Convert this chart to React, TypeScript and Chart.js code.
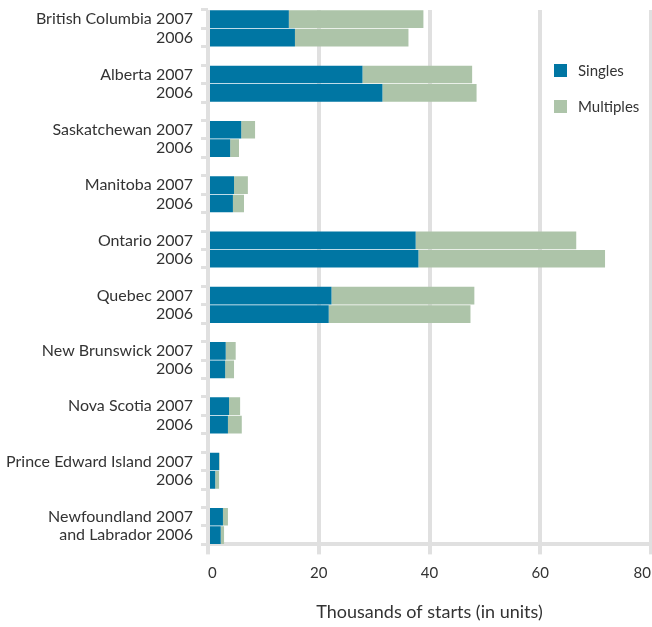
import React, { useEffect, useRef } from "react";
import { Chart, registerables } from "chart.js";
Chart.register(...registerables);

const provinces: string[][] = [
  ["British Columbia 2007", "2006"],
  ["Alberta 2007", "2006"],
  ["Saskatchewan 2007", "2006"],
  ["Manitoba 2007", "2006"],
  ["Ontario 2007", "2006"],
  ["Quebec 2007", "2006"],
  ["New Brunswick 2007", "2006"],
  ["Nova Scotia 2007", "2006"],
  ["Prince Edward Island 2007", "2006"],
  ["Newfoundland 2007", "and Labrador 2006"],
];
const singles2007 = [14.6, 27.9, 6.0, 4.7, 37.5, 22.3, 3.2, 3.8, 2.0, 2.7];
const multiples2007 = [24.3, 19.8, 2.5, 2.5, 29.0, 25.8, 1.8, 2.0, 0.1, 0.9];
const singles2006 = [15.7, 31.5, 4.0, 4.5, 38.0, 21.8, 3.1, 3.6, 1.3, 2.3];
const multiples2006 = [20.5, 17.0, 1.6, 2.0, 33.7, 25.6, 1.6, 2.5, 0.7, 0.6];
const seriesNames = ["Singles", "Multiples"];
const xMin = 0;
const xMax = 80;
const xStep = 20;
const axisTitle = "Thousands of starts (in units)";

const BLUE = "#0076a3";
const GREEN = "#adc4a9";
const GRID = "#e0e0e0";
const TEXT = "#333333";
const FONT = "Lato, sans-serif";

export default function App() {
  const ref = useRef<HTMLCanvasElement | null>(null);
  useEffect(() => {
    const labels: string[] = [];
    const s: (number | null)[] = [];
    const m: (number | null)[] = [];
    provinces.forEach((p, i) => {
      labels.push(p[0], p[1]);
      s.push(singles2007[i], singles2006[i]);
      m.push(multiples2007[i], multiples2006[i]);
      if (i < provinces.length - 1) {
        labels.push("");
        s.push(null);
        m.push(null);
      }
    });
    const chart = new Chart(ref.current as HTMLCanvasElement, {
      type: "bar",
      data: {
        labels,
        datasets: [
          { label: seriesNames[0], data: s, backgroundColor: BLUE, barPercentage: 0.96, categoryPercentage: 1 },
          { label: seriesNames[1], data: m, backgroundColor: GREEN, barPercentage: 0.96, categoryPercentage: 1 },
        ],
      },
      options: {
        indexAxis: "y",
        animation: false,
        responsive: true,
        maintainAspectRatio: false,
        layout: { padding: { top: 10, right: 1, left: 0, bottom: 0 } },
        plugins: { legend: { display: false }, tooltip: { enabled: false } },
        scales: {
          x: {
            stacked: true,
            min: xMin,
            max: xMax,
            afterFit: (sc: any) => {
              sc.paddingLeft = 0;
              sc.paddingRight = 0;
            },
            grid: { color: GRID, lineWidth: 4, tickLength: 10, drawTicks: true },
            border: { display: true, color: GRID, width: 4 },
            ticks: { stepSize: xStep, align: "inner", padding: 10, color: TEXT, font: { family: FONT, size: 15 } },
            title: {
              display: true,
              text: axisTitle,
              color: TEXT,
              font: { family: FONT, size: 18 },
              padding: { top: 9, bottom: 4 },
            },
          },
          y: {
            stacked: true,
            afterFit: (sc: any) => {
              sc.width = 208;
              sc.paddingTop = 0;
              sc.paddingBottom = 0;
            },
            grid: { drawOnChartArea: false, color: GRID, lineWidth: 3, tickLength: 7, offset: true },
            border: { display: false },
            ticks: { color: TEXT, font: { family: FONT, size: 16 }, padding: 8, autoSkip: false },
          },
        },
      },
    } as any);
    return () => chart.destroy();
  }, []);

  const legendItem = (color: string, text: string, top: number) => (
    <div style={{ position: "absolute", left: 554, top, display: "flex", alignItems: "center", fontFamily: FONT, fontSize: 15, color: TEXT }}>
      <div style={{ width: 13, height: 13, background: color, marginRight: 11 }} />
      <span>{text}</span>
    </div>
  );

  return (
    <div style={{ position: "fixed", left: 0, top: 0, width: 652, height: 627, background: "#fff" }}>
      <canvas ref={ref} />
      {legendItem(BLUE, seriesNames[0], 61)}
      {legendItem(GREEN, seriesNames[1], 97)}
    </div>
  );
}
